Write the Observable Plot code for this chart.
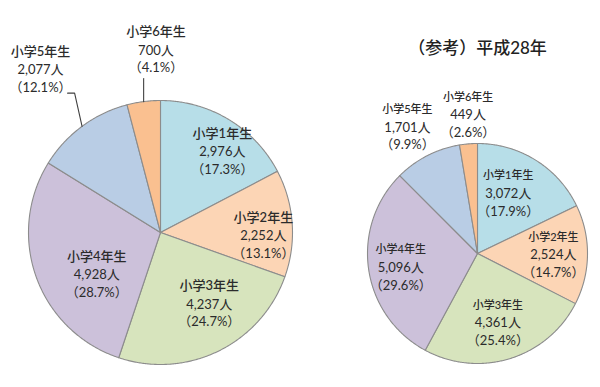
<!DOCTYPE html>
<html>
<head>
<meta charset="utf-8">
<script src="https://cdn.jsdelivr.net/npm/d3@7"></script>
<script src="https://cdn.jsdelivr.net/npm/@observablehq/plot@0.6"></script>
<style>
  html, body { margin: 0; padding: 0; background: #ffffff; }
  #chart svg { display: block; font-family: "Noto Sans CJK JP", "Noto Sans", sans-serif; }
</style>
</head>
<body>
<div id="chart"></div>
<script>
// ---- data ----
const grades = ["小学1年生", "小学2年生", "小学3年生", "小学4年生", "小学5年生", "小学6年生"];
const countsMain = [2976, 2252, 4237, 4928, 2077, 700];
const pctsMain = [17.3, 13.1, 24.7, 28.7, 12.1, 4.1];
const countsRef = [3072, 2524, 4361, 5096, 1701, 449];
const pctsRef = [17.9, 14.7, 25.4, 29.6, 9.9, 2.6];
const sliceColors = ["#b7dee8", "#fcd5b5", "#d7e4bd", "#ccc1da", "#b9cde5", "#fac090"];
const refTitle = "（参考）平成28年";

// ---- layout (not data) ----
const W = 600, H = 387;
const pies = [
  {id: "main", cx: 160, cy: 232, r: 132, counts: countsMain, pcts: pctsMain,
   labelK: [0.77, 0.78, 0.66, 0.58, 1.53, 1.38], labelShift: [6.3, 6.1, -8.1, -13.7, 0, 5.9],
   nameSize: 13, valSize: 13, nameDy: -18.5, pctDy: 17.5},
  {id: "ref", cx: 477, cy: 253, r: 110, counts: countsRef, pcts: pctsRef,
   labelK: [0.61, 0.69, 0.66, 0.71, 1.31, 1.26], labelShift: [-4.9, 0.6, 1, -2.3, -1.9, 0.8],
   nameSize: 11, valSize: 13, nameDy: -18, pctDy: 17.5}
];
const rad = Math.PI / 180;
const polar = (p, a, k) => [p.cx + p.r * k * Math.sin(a), p.cy - p.r * k * Math.cos(a)];

const polys = [], labels = [], leaders = [];
for (const p of pies) {
  const arcs = d3.pie().sort(null).startAngle(0).endAngle(2 * Math.PI)(p.counts);
  arcs.forEach((a, i) => {
    const key = p.id + i;
    polys.push({key, x: p.cx, y: p.cy, color: sliceColors[i]});
    const n = Math.max(2, Math.ceil((a.endAngle - a.startAngle) / (0.5 * rad)));
    for (let j = 0; j <= n; j++) {
      const t = a.startAngle + (a.endAngle - a.startAngle) * j / n;
      const [x, y] = polar(p, t, 1);
      polys.push({key, x, y, color: sliceColors[i]});
    }
    const mid = (a.startAngle + a.endAngle) / 2 + p.labelShift[i] * rad;
    const [lx, ly] = polar(p, mid, p.labelK[i]);
    labels.push({x: lx, y: ly, name: grades[i], count: d3.format(",")(p.counts[i]) + "人",
      pct: "（" + p.pcts[i].toFixed(1) + "%）", nameSize: p.nameSize, valSize: p.valSize,
      nameDy: p.nameDy, pctDy: p.pctDy});
  });
  if (p.id === "main") {
    // leader lines for the two small outside-labelled slices
    const a5 = (arcs[4].startAngle + arcs[4].endAngle) / 2;
    const e5 = polar(p, a5, 1), m5 = polar(p, a5 + 4.8 * rad, 1.24);
    leaders.push({k: "l5", x: e5[0], y: e5[1]}, {k: "l5", x: m5[0], y: m5[1]}, {k: "l5", x: m5[0] - 7, y: m5[1]});
    const a6 = arcs[5].startAngle + (arcs[5].endAngle - arcs[5].startAngle) * 0.5;
    const e6 = polar(p, a6, 1);
    leaders.push({k: "l6", x: e6[0], y: e6[1]}, {k: "l6", x: e6[0], y: e6[1] - 23});
  }
}

const font = "Lato, 'Noto Sans CJK JP', sans-serif";
const txt = "#2b2b2b";
const lineRows = ["name", "count", "pct"].map(f => labels.map(d => ({
  ...d,
  yy: d.y + (f === "name" ? d.nameDy : f === "pct" ? d.pctDy : 0),
  fs: f === "name" ? d.nameSize : d.valSize
})));

const chart = Plot.plot({
  width: W, height: H,
  marginTop: 0, marginRight: 0, marginBottom: 0, marginLeft: 0,
  x: {domain: [0, W], range: [0, W], axis: null},
  y: {domain: [0, H], range: [0, H], axis: null},
  color: {type: "identity"},
  marks: [
    Plot.line(polys, {x: "x", y: "y", z: "key", fill: "color", stroke: "#8c8c8c", strokeWidth: 1.1,
      curve: "linear-closed", strokeLinejoin: "round"}),
    Plot.line(leaders, {x: "x", y: "y", z: "k", stroke: "#404040", strokeWidth: 1.1}),
    ...["name", "count", "pct"].map((f, k) => Plot.text(lineRows[k], {
      x: "x", y: "yy", text: f, fontSize: "fs", fill: txt, fontFamily: font,
      fontWeight: f === "name" ? 500 : 400, textAnchor: "middle"})),
    Plot.text([refTitle], {x: () => 477, y: () => 48, text: d => d, fontSize: 17, fill: "#222222",
      fontFamily: font, fontWeight: 500})
  ]
});
document.getElementById("chart").append(chart);
</script>
</body>
</html>
